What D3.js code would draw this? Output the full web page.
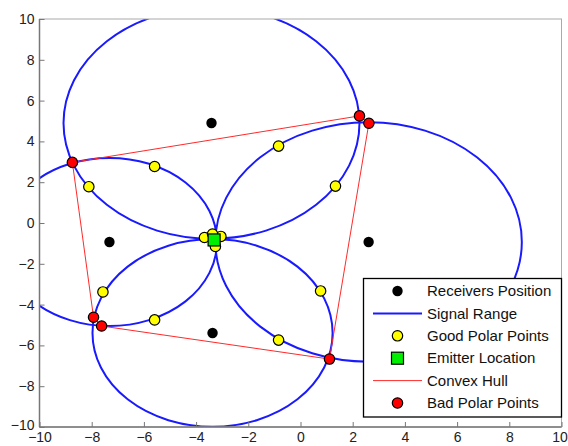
<!DOCTYPE html>
<html>
<head>
<meta charset="utf-8">
<script src="https://cdn.jsdelivr.net/npm/d3@7"></script>
<style>
  html, body { margin: 0; padding: 0; background: #fff; }
  svg { display: block; font-family: "Liberation Sans", Arial, Helvetica, sans-serif; }
</style>
</head>
<body>
<svg id="chart" width="568" height="446"></svg>
<script>
// Receiver positions (x, y)
const receiversX = [-3.41, -7.32, 2.61, -3.37];
const receiversY = [4.90, -0.93, -0.93, -5.39];
// Signal range (radius) of each receiver
const signalRange = [5.67, 4.12, 5.87, 4.60];
// Estimated emitter location
const emitterX = [-3.31];
const emitterY = [-0.83];
// Good polar points
const goodX = [-8.11, -5.59, -0.84, 1.34, -7.57, -5.59, -0.84, 0.77, -3.68, -3.05, -3.26, -3.37];
const goodY = [1.78, 2.77, 3.77, 1.81, -3.38, -4.75, -5.74, -3.33, -0.71, -0.66, -1.15, -0.54];
// Bad polar points
const badX = [-8.74, 2.26, 2.62, -7.93, -7.62, 1.11];
const badY = [2.97, 5.25, 4.89, -4.62, -5.05, -6.67];
// Convex hull vertices (in drawing order)
const hullX = [-8.74, 2.26, 2.62, 1.11, -7.62, -7.93, -8.74];
const hullY = [2.97, 5.25, 4.89, -6.67, -5.05, -4.62, 2.97];
// Axis ticks
const xTicks = [-10, -8, -6, -4, -2, 0, 2, 4, 6, 8, 10];
const yTicks = [-10, -8, -6, -4, -2, 0, 2, 4, 6, 8, 10];
// Legend entries
const legendLabels = ["Receivers Position", "Signal Range", "Good Polar Points", "Emitter Location", "Convex Hull", "Bad Polar Points"];

const svg = d3.select("#chart");
const x = d3.scaleLinear().domain([-10, 10]).range([39.5, 561.5]);
const y = d3.scaleLinear().domain([-10, 10]).range([427, 19]);

const blue = "#1a1aff";
const red = "#ff2a2a";

svg.append("defs").append("clipPath").attr("id", "plotClip")
  .append("rect")
  .attr("x", x(-10)).attr("y", y(10))
  .attr("width", x(10) - x(-10)).attr("height", y(-10) - y(10));

const plot = svg.append("g").attr("clip-path", "url(#plotClip)");

// Signal range circles (drawn in data space)
plot.selectAll("ellipse.range")
  .data(receiversX.map((d, i) => ({ cx: d, cy: receiversY[i], r: signalRange[i] })))
  .join("ellipse")
  .attr("class", "range")
  .attr("cx", d => x(d.cx))
  .attr("cy", d => y(d.cy))
  .attr("rx", d => x(d.r) - x(0))
  .attr("ry", d => y(0) - y(d.r))
  .attr("fill", "none")
  .attr("stroke", blue)
  .attr("stroke-width", 2);

// Convex hull
plot.append("path")
  .datum(hullX.map((d, i) => [d, hullY[i]]))
  .attr("d", d3.line().x(d => x(d[0])).y(d => y(d[1])))
  .attr("fill", "none")
  .attr("stroke", red)
  .attr("stroke-width", 1);

// Good polar points
plot.selectAll("circle.good")
  .data(goodX.map((d, i) => [d, goodY[i]]))
  .join("circle")
  .attr("class", "good")
  .attr("cx", d => x(d[0])).attr("cy", d => y(d[1]))
  .attr("r", 5.2)
  .attr("fill", "#ffff00").attr("stroke", "#000").attr("stroke-width", 1.2);

// Bad polar points
plot.selectAll("circle.bad")
  .data(badX.map((d, i) => [d, badY[i]]))
  .join("circle")
  .attr("class", "bad")
  .attr("cx", d => x(d[0])).attr("cy", d => y(d[1]))
  .attr("r", 5.2)
  .attr("fill", "#ff0000").attr("stroke", "#000").attr("stroke-width", 1.2);

// Receivers
plot.selectAll("circle.rx")
  .data(receiversX.map((d, i) => [d, receiversY[i]]))
  .join("circle")
  .attr("class", "rx")
  .attr("cx", d => x(d[0])).attr("cy", d => y(d[1]))
  .attr("r", 5.2)
  .attr("fill", "#000");

// Emitter
plot.selectAll("rect.em")
  .data(emitterX.map((d, i) => [d, emitterY[i]]))
  .join("rect")
  .attr("class", "em")
  .attr("x", d => x(d[0]) - 6).attr("y", d => y(d[1]) - 6)
  .attr("width", 12).attr("height", 12)
  .attr("fill", "#00ee00").attr("stroke", "#000").attr("stroke-width", 1.2);

// Axes box
const axisColor = "#777";
svg.append("rect")
  .attr("x", x(-10)).attr("y", y(10))
  .attr("width", x(10) - x(-10)).attr("height", y(-10) - y(10))
  .attr("fill", "none").attr("stroke", "#aaa").attr("stroke-width", 1);
svg.append("line")
  .attr("x1", x(-10)).attr("x2", x(10)).attr("y1", y(-10)).attr("y2", y(-10))
  .attr("stroke", axisColor).attr("stroke-width", 1.5);
svg.append("line")
  .attr("x1", x(-10)).attr("x2", x(-10)).attr("y1", y(-10)).attr("y2", y(10))
  .attr("stroke", axisColor).attr("stroke-width", 1.5);

const xAxis = d3.axisBottom(x).tickValues(xTicks).tickSize(-5).tickPadding(5).tickFormat(d3.format("d"));
const gx = svg.append("g").attr("transform", `translate(0,${y(-10)})`).call(xAxis);
gx.select(".domain").remove();
gx.selectAll("line").attr("stroke", axisColor);
gx.selectAll("text").attr("fill", "#222").style("font-size", "14px");
// keep the last label inside the page edge
gx.selectAll("text").filter(d => d === 10).attr("x", -2);

const yAxis = d3.axisLeft(y).tickValues(yTicks).tickSize(-5).tickPadding(5).tickFormat(d3.format("d"));
const gy = svg.append("g").attr("transform", `translate(${x(-10)},0)`).call(yAxis);
gy.select(".domain").remove();
gy.selectAll("line").attr("stroke", axisColor);
gy.selectAll("text").attr("fill", "#222").style("font-size", "14px");
// lift the lowest label clear of the x-axis labels
gy.selectAll("text").filter(d => d === -10).attr("y", -2);

// Legend
const lg = svg.append("g");
lg.append("rect")
  .attr("x", 363.5).attr("y", 278.5).attr("width", 198).attr("height", 138.5)
  .attr("fill", "#fff").attr("stroke", "#000").attr("stroke-width", 1.3);
const rowY = i => 291 + i * 22.4;
const mx = 397.5;
const items = lg.selectAll("g.item").data(legendLabels).join("g").attr("class", "item");
items.append("text")
  .attr("x", 427).attr("y", (d, i) => rowY(i))
  .attr("dy", "0.35em")
  .style("font-size", "15px")
  .attr("fill", "#111")
  .text(d => d);
lg.append("circle").attr("cx", mx).attr("cy", rowY(0)).attr("r", 5.2).attr("fill", "#000");
lg.append("line").attr("x1", 373).attr("x2", 422).attr("y1", rowY(1)).attr("y2", rowY(1))
  .attr("stroke", blue).attr("stroke-width", 2);
lg.append("circle").attr("cx", mx).attr("cy", rowY(2)).attr("r", 5.2)
  .attr("fill", "#ffff00").attr("stroke", "#000").attr("stroke-width", 1.2);
lg.append("rect").attr("x", mx - 6).attr("y", rowY(3) - 6).attr("width", 12).attr("height", 12)
  .attr("fill", "#00ee00").attr("stroke", "#000").attr("stroke-width", 1.2);
lg.append("line").attr("x1", 373).attr("x2", 422).attr("y1", rowY(4)).attr("y2", rowY(4))
  .attr("stroke", red).attr("stroke-width", 1);
lg.append("circle").attr("cx", mx).attr("cy", rowY(5)).attr("r", 5.2)
  .attr("fill", "#ff0000").attr("stroke", "#000").attr("stroke-width", 1.2);
</script>
</body>
</html>
